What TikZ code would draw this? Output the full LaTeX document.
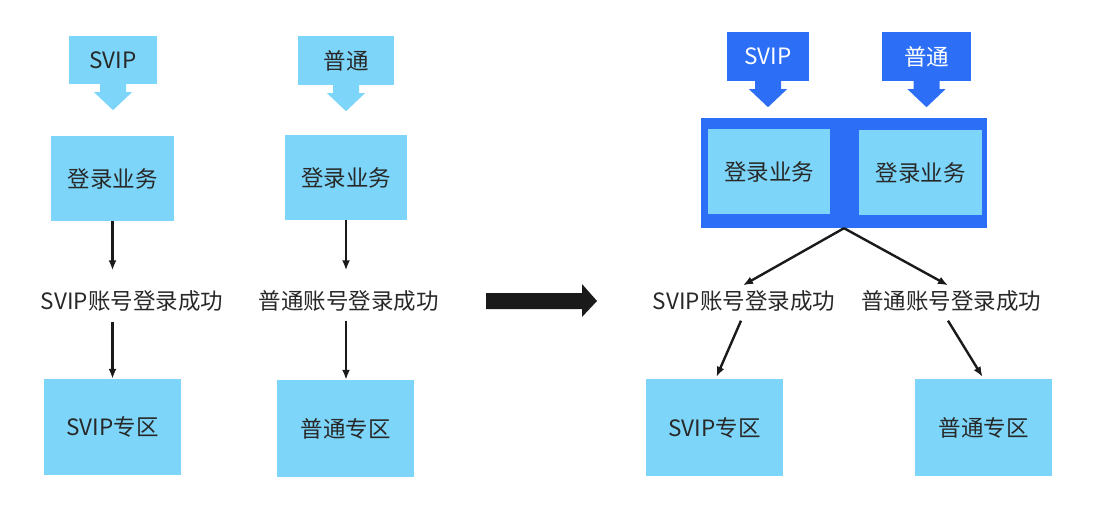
\documentclass[tikz,border=0pt]{standalone}
\usepackage{fontspec}
\setmainfont{Noto Sans CJK SC}
\usetikzlibrary{calc,arrows.meta}
\definecolor{lightbl}{RGB}{125,214,250}
\definecolor{darkbl}{RGB}{44,111,246}
\definecolor{txt}{RGB}{40,40,40}
\definecolor{bigarrow}{RGB}{26,26,26}
\newcommand\calloutarrow[2]{\fill[#1] (#2.south) ++(-13,-1) -- ++(0,9) -- ++(-6,0) -- ++(19,18) -- ++(19,-18) -- ++(-6,0) -- ++(0,-9) -- cycle;}
\tikzset{
  base/.style={inner sep=0pt, font=\fontsize{22.5}{26}\selectfont, text=txt},
  lbox/.style={base, fill=lightbl, minimum width=#1},
  lbox/.default=123pt,
  dbox/.style={base, fill=darkbl, text=white},
  lbl/.style={base, text height=16pt, text depth=5pt},
  conn/.style={line width=2.4pt, draw=bigarrow, -{Latex[length=10pt,width=8pt]}},
}
\begin{document}
\begin{tikzpicture}[x=1pt,y=-1pt]
\useasboundingbox (0,0) rectangle (1103,513);
% ---------- left: two separate flows ----------
\node[lbox, minimum width=88pt, minimum height=48pt] (c1) at (113,60) {SVIP};
\node[lbox, minimum width=96pt, minimum height=49pt] (c2) at (346,60.5) {普通};
\calloutarrow{lightbl}{c1}
\calloutarrow{lightbl}{c2}
\node[lbox=123pt, minimum height=85pt] (b1) at (112.5,178.5) {登录业务};
\node[lbox=122pt, minimum height=85pt] (b2) at (346,177.5) {登录业务};
\node[lbl] (t1) at (132,304) {SVIP账号登录成功};
\node[lbl] (t2) at (348.5,304) {普通账号登录成功};
\node[lbox=137pt, minimum height=96pt] (s1) at (112.5,427) {SVIP专区};
\node[lbox=137pt, minimum height=97pt] (s2) at (345.5,428.5) {普通专区};
\draw[conn] (b1.south) -- ($(b1.south |- t1.north)+(0,-23)$);
\draw[conn] ($(b1.south |- t1.south)+(0,7)$) -- (s1.north -| b1.south);
\draw[conn] (b2.south) -- ($(b2.south |- t2.north)+(0,-23)$);
\draw[conn] ($(b2.south |- t2.south)+(0,6)$) -- (s2.north -| b2.south);
% ---------- big arrow ----------
\fill[bigarrow] (486,293) -- (582,293) -- (582,284) -- (597,301) -- (582,317) -- (582,309) -- (486,309) -- cycle;
% ---------- right: merged flow ----------
\node[dbox, minimum width=82pt, minimum height=49pt] (c3) at (768,56.5) {SVIP};
\node[dbox, minimum width=89pt, minimum height=49pt] (c4) at (926.5,56.5) {普通};
\calloutarrow{darkbl}{c3}
\calloutarrow{darkbl}{c4}
\node[fill=darkbl, inner sep=0pt, minimum width=286pt, minimum height=110pt] (cont) at (844,173) {};
\node[lbox=122pt, minimum height=85pt] (b3) at (769,171.5) {登录业务};
\node[lbox=123pt, minimum height=85pt] (b4) at (920.5,172.5) {登录业务};
\node[lbl] (t3) at (744,304) {SVIP账号登录成功};
\node[lbl] (t4) at (951,304) {普通账号登录成功};
\node[lbox=137pt, minimum height=97pt] (s3) at (714.5,427.5) {SVIP专区};
\node[lbox=137pt, minimum height=97pt] (s4) at (983.5,427.5) {普通专区};
\draw[conn] (cont.south) -- ($(t3.north)+(-1,-8)$);
\draw[conn] (cont.south) -- ($(t4.north)+(-3,-8)$);
\draw[conn] ($(t3.south)+(-3,6)$) -- ($(s3.north)+(2,-2)$);
\draw[conn] ($(t4.south)+(-3,6)$) -- ($(s4.north)+(-1,-2)$);
\end{tikzpicture}
\end{document}
